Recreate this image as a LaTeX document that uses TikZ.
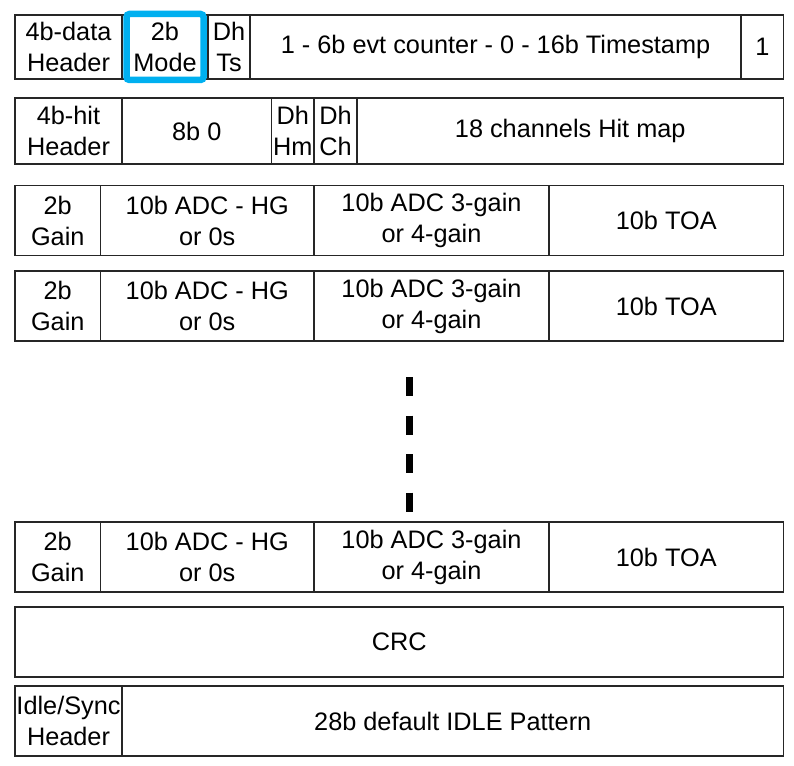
\documentclass[tikz,border=0pt]{standalone}
\usepackage{fontspec}
\setmainfont{Liberation Sans}
\usetikzlibrary{positioning}
\definecolor{hlblue}{RGB}{0, 176, 240}

\begin{document}
\begin{tikzpicture}[
        x=1pt, y=-1pt,
        cell/.style={rectangle, draw=black!85, line width=1.8pt, inner sep=0pt, outer sep=0pt, align=center, font=\fontsize{25.3}{31}\selectfont},
        hl/.style={rectangle, draw=hlblue, line width=6.5pt, rounded corners=3pt, inner sep=0pt},
        dots/.style={line width=6.5pt, dash pattern=on 19pt off 19.5pt}
    ]
        \useasboundingbox (0,0) rectangle (794,765);

        % Row 1: data header
        \node[cell, minimum width=107, minimum height=64] (data_hdr) at (68.5,47) {4b-data\\Header};
        \node[cell, minimum width=86, minimum height=64] (mode) at (165,47) {2b\\Mode};
        \node[cell, minimum width=42, minimum height=64] (dh_ts) at (229,47) {Dh\\Ts};
        \node[cell, minimum width=491, minimum height=64] (evt_ts) at (495.5,47) {1 - 6b evt counter - 0 - 16b Timestamp};
        \node[cell, minimum width=42, minimum height=64] (stop_bit) at (762.5,47) {1};

        % highlight on the mode field
        \node[hl, minimum width=77, minimum height=66] (mode_hl) at (165,47) {};

        % Row 2: hit header
        \node[cell, minimum width=107, minimum height=66] (hit_hdr) at (68.5,131) {4b-hit\\Header};
        \node[cell, minimum width=149.5, minimum height=66] (zeros) at (196.75,131) {8b 0};
        \node[cell, minimum width=42.5, minimum height=66] (dh_hm) at (292.75,131) {Dh\\Hm};
        \node[cell, minimum width=43, minimum height=66] (dh_ch) at (335.5,131) {Dh\\Ch};
        \node[cell, minimum width=426.5, minimum height=66] (hit_map) at (570.25,131) {18 channels Hit map};

        % Row 3: first channel
        \node[cell, minimum width=85.5, minimum height=70] (gain_a) at (57.75,220.5) {2b\\Gain};
        \node[cell, minimum width=213.5, minimum height=70] (hg_a) at (207.25,220.5) {10b ADC - HG\\or 0s};
        \node[cell, minimum width=235, minimum height=70] (mg_a) at (431.5,220.5) {10b ADC 3-gain\\or 4-gain};
        \node[cell, minimum width=234.5, minimum height=70] (toa_a) at (666.25,220.5) {10b TOA};

        % Row 4: second channel
        \node[cell, minimum width=85.5, minimum height=70] (gain_b) at (57.75,306) {2b\\Gain};
        \node[cell, minimum width=213.5, minimum height=70] (hg_b) at (207.25,306) {10b ADC - HG\\or 0s};
        \node[cell, minimum width=235, minimum height=70] (mg_b) at (431.5,306) {10b ADC 3-gain\\or 4-gain};
        \node[cell, minimum width=234.5, minimum height=70] (toa_b) at (666.25,306) {10b TOA};

        % more channels
        \coordinate (dots_top) at (409.5,377);
        \coordinate (dots_bot) at (409.5,512);
        \draw[dots] (dots_top) -- (dots_bot);

        % Row 5: last channel
        \node[cell, minimum width=85.5, minimum height=70] (gain_n) at (57.75,557) {2b\\Gain};
        \node[cell, minimum width=213.5, minimum height=70] (hg_n) at (207.25,557) {10b ADC - HG\\or 0s};
        \node[cell, minimum width=235, minimum height=70] (mg_n) at (431.5,557) {10b ADC 3-gain\\or 4-gain};
        \node[cell, minimum width=234.5, minimum height=70] (toa_n) at (666.25,557) {10b TOA};

        % Row 6: CRC
        \node[cell, minimum width=768.5, minimum height=70] (crc) at (399.25,642) {CRC};

        % Row 7: idle
        \node[cell, minimum width=107, minimum height=70] (idle_hdr) at (68.5,721) {Idle/Sync\\Header};
        \node[cell, minimum width=661.5, minimum height=70] (idle_pat) at (452.75,721) {28b default IDLE Pattern};
    \end{tikzpicture}
\end{document}
